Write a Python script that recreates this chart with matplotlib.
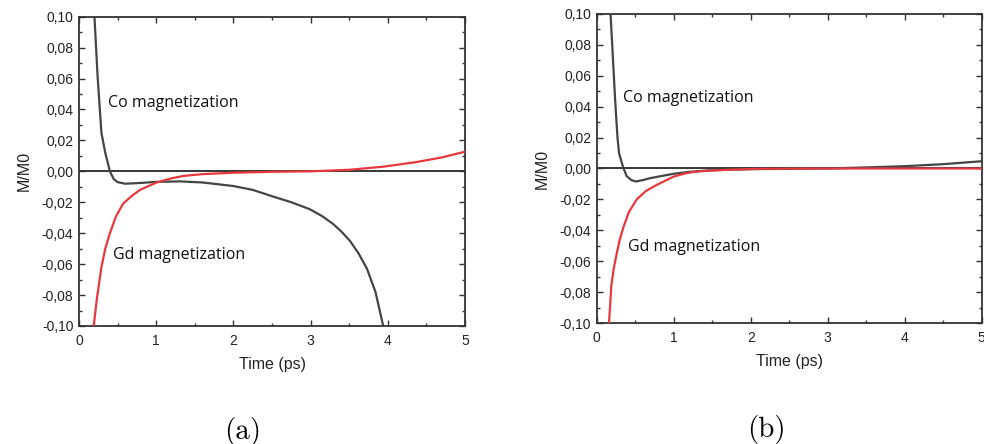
import matplotlib
matplotlib.use("Agg")
import matplotlib.pyplot as plt
from matplotlib.ticker import FuncFormatter, MultipleLocator

# Panel (a)
a_co_t = [0.20, 0.24, 0.29, 0.34, 0.40, 0.45, 0.50, 0.60, 0.80, 1.00, 1.31, 1.60, 2.00, 2.25, 2.52, 2.75, 2.99, 3.15, 3.29, 3.40, 3.51, 3.62, 3.73, 3.84, 3.94]
a_co_m = [0.100, 0.062, 0.025, 0.012, 0.000, -0.005, -0.007, -0.008, -0.0075, -0.0068, -0.0065, -0.0072, -0.0095, -0.012, -0.0164, -0.020, -0.0245, -0.029, -0.034, -0.039, -0.045, -0.053, -0.063, -0.078, -0.100]
a_gd_t = [0.19, 0.23, 0.29, 0.34, 0.40, 0.48, 0.57, 0.68, 0.79, 1.00, 1.20, 1.35, 1.60, 2.00, 2.50, 3.00, 3.50, 3.94, 4.37, 4.70, 5.00]
a_gd_m = [-0.100, -0.083, -0.062, -0.050, -0.040, -0.029, -0.021, -0.016, -0.012, -0.0073, -0.0045, -0.003, -0.0018, -0.0009, -0.0003, 0.0000, 0.0010, 0.0030, 0.0060, 0.0090, 0.0127]

# Panel (b)
b_co_t = [0.18, 0.21, 0.24, 0.27, 0.29, 0.33, 0.35, 0.39, 0.45, 0.51, 0.60, 0.69, 0.85, 1.00, 1.20, 1.43, 1.75, 2.08, 2.50, 3.00, 3.50, 4.00, 4.50, 5.00]
b_co_m = [0.100, 0.072, 0.044, 0.020, 0.0099, 0.003, 0.000, -0.005, -0.0075, -0.0084, -0.0075, -0.0063, -0.0048, -0.0034, -0.0022, -0.0013, -0.0007, -0.0004, -0.0002, 0.0000, 0.0007, 0.0015, 0.0028, 0.0047]
b_gd_t = [0.16, 0.19, 0.22, 0.26, 0.30, 0.35, 0.42, 0.52, 0.64, 0.78, 1.00, 1.15, 1.30, 1.65, 2.08, 2.50, 3.00, 4.00, 5.00]
b_gd_m = [-0.100, -0.076, -0.065, -0.055, -0.046, -0.0375, -0.028, -0.020, -0.0145, -0.0106, -0.0052, -0.0032, -0.0019, -0.0009, -0.0002, -0.0001, 0.0000, 0.0000, 0.0000]

xticks = [0, 1, 2, 3, 4, 5]
yticks = [-0.10, -0.08, -0.06, -0.04, -0.02, 0.00, 0.02, 0.04, 0.06, 0.08, 0.10]

co_label = "Co magnetization"
gd_label = "Gd magnetization"
captions = ["(a)", "(b)"]

CO_COLOR = "#454545"
GD_COLOR = "#e8383d"
SPINE = "#333333"

fig = plt.figure(figsize=(9.84, 4.44), dpi=100)
ax_a = fig.add_axes([0.0803, 0.2658, 0.3923, 0.6966])
ax_b = fig.add_axes([0.6064, 0.2725, 0.3913, 0.6960])

yfmt = FuncFormatter(lambda v, p: ("%.2f" % v).replace(".", ",").replace("-0,00", "0,00"))
xfmt = FuncFormatter(lambda v, p: "%d" % round(v))

panels = [
    (ax_a, a_co_t, a_co_m, a_gd_t, a_gd_m, (0.38, 0.0444), (0.445, -0.054)),
    (ax_b, b_co_t, b_co_m, b_gd_t, b_gd_m, (0.34, 0.0459), (0.40, -0.051)),
]

for ax, ct, cm, gt, gm, cpos, gpos in panels:
    ax.axhline(0, color="black", lw=1.1, zorder=1)
    ax.plot(ct, cm, color=CO_COLOR, lw=1.6, zorder=2)
    ax.plot(gt, gm, color=GD_COLOR, lw=1.6, zorder=3)
    ax.set_xlim(0, 5)
    ax.set_ylim(-0.10, 0.10)
    ax.set_xticks(xticks)
    ax.set_yticks(yticks)
    ax.xaxis.set_minor_locator(MultipleLocator(0.5))
    ax.yaxis.set_minor_locator(MultipleLocator(0.01))
    ax.xaxis.set_major_formatter(xfmt)
    ax.yaxis.set_major_formatter(yfmt)
    ax.tick_params(which="both", direction="in", top=True, right=True,
                   colors=SPINE, labelcolor="#222222", labelsize=10,
                   width=1.0, labelfontfamily="Liberation Sans")
    ax.tick_params(which="major", length=4, pad=4)
    ax.tick_params(axis="x", which="major", pad=5.5)
    ax.tick_params(which="minor", length=2.2)
    for s in ax.spines.values():
        s.set_color(SPINE)
        s.set_linewidth(1.3)
    ax.set_xlabel("Time (ps)", fontsize=11.5, family="Liberation Sans", color="#222222", labelpad=7)
    ax.set_ylabel("M/M0", fontsize=11.5, family="Liberation Sans", color="#222222", labelpad=7)
    ax.text(cpos[0], cpos[1], co_label, fontsize=11.5, family="Open Sans", va="center", ha="left", color="#111111")
    ax.text(gpos[0], gpos[1], gd_label, fontsize=11.5, family="Open Sans", va="center", ha="left", color="#111111")

fig.text(243 / 984, 1 - 431 / 444, captions[0], fontsize=21, family="cmr10", ha="center", va="center")
fig.text(766 / 984, 1 - 429 / 444, captions[1], fontsize=21, family="cmr10", ha="center", va="center")

fig.savefig("out.png", dpi=100)
